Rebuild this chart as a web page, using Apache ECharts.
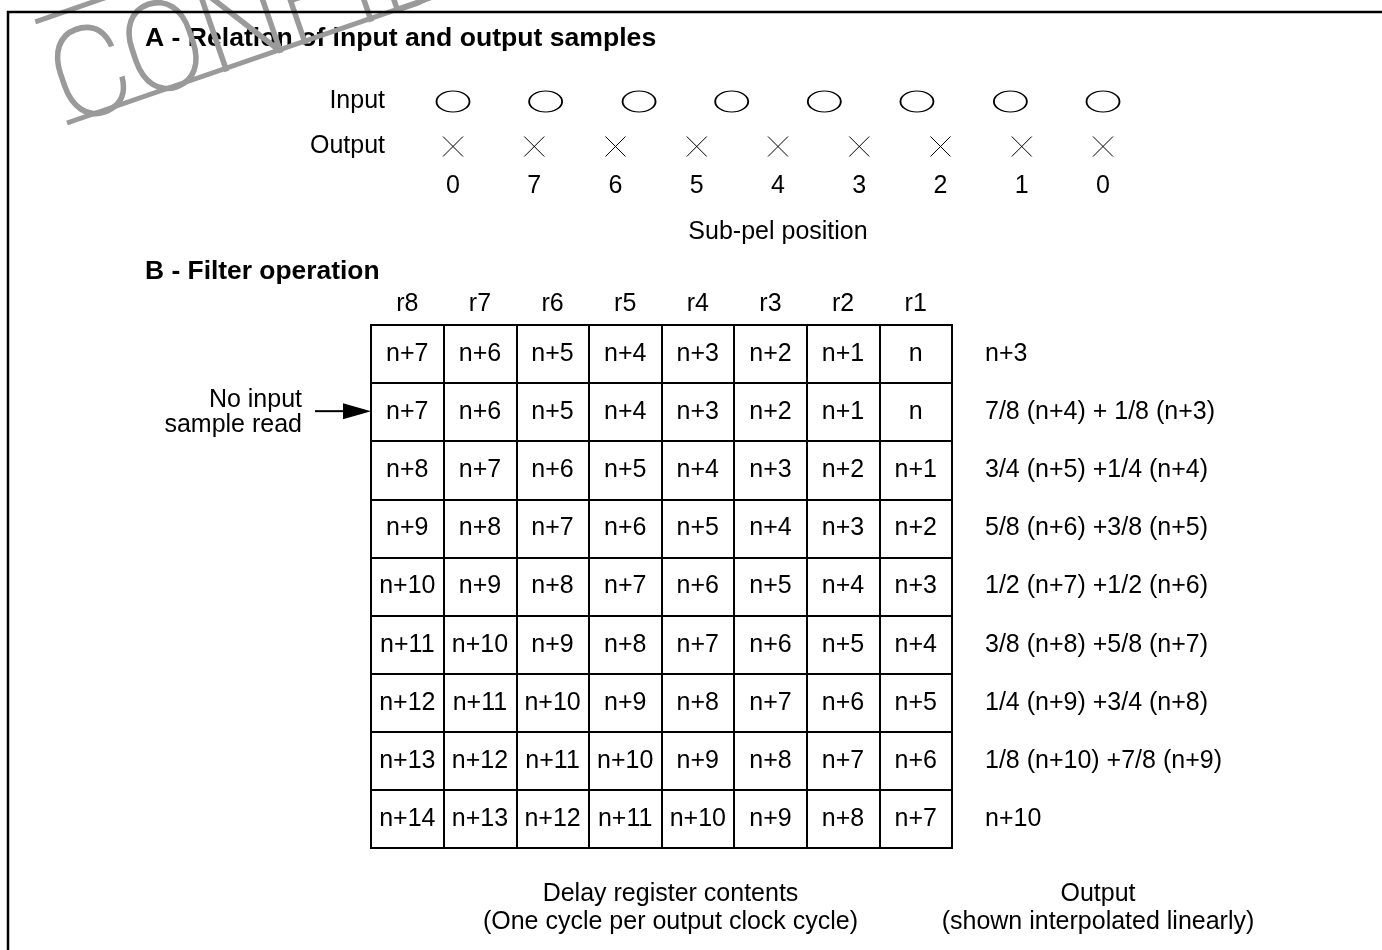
<!DOCTYPE html>
<html>
<head>
<meta charset="utf-8">
<script src="https://cdn.jsdelivr.net/npm/echarts@6/dist/echarts.min.js"></script>
<style>
  html, body { margin: 0; padding: 0; background: #fff; }
  #main { width: 1382px; height: 950px; }
</style>
</head>
<body>
<div id="main"></div>
<script>
// A - sample positions, in output sample units
const subpelLabels = ['0', '7', '6', '5', '4', '3', '2', '1', '0'];
const outputPos = [0, 1, 2, 3, 4, 5, 6, 7, 8];
const inputPos = [0, 1.14, 2.29, 3.43, 4.57, 5.71, 6.86, 8];
const sampleRows = ['Output', 'Input'];

// B - delay register contents per cycle
const registers = ['r8', 'r7', 'r6', 'r5', 'r4', 'r3', 'r2', 'r1'];
const cycles = ['c1', 'c2', 'c3', 'c4', 'c5', 'c6', 'c7', 'c8', 'c9'];
const cycleRows = [
  ['n+7', 'n+6', 'n+5', 'n+4', 'n+3', 'n+2', 'n+1', 'n'],
  ['n+7', 'n+6', 'n+5', 'n+4', 'n+3', 'n+2', 'n+1', 'n'],
  ['n+8', 'n+7', 'n+6', 'n+5', 'n+4', 'n+3', 'n+2', 'n+1'],
  ['n+9', 'n+8', 'n+7', 'n+6', 'n+5', 'n+4', 'n+3', 'n+2'],
  ['n+10', 'n+9', 'n+8', 'n+7', 'n+6', 'n+5', 'n+4', 'n+3'],
  ['n+11', 'n+10', 'n+9', 'n+8', 'n+7', 'n+6', 'n+5', 'n+4'],
  ['n+12', 'n+11', 'n+10', 'n+9', 'n+8', 'n+7', 'n+6', 'n+5'],
  ['n+13', 'n+12', 'n+11', 'n+10', 'n+9', 'n+8', 'n+7', 'n+6'],
  ['n+14', 'n+13', 'n+12', 'n+11', 'n+10', 'n+9', 'n+8', 'n+7']
];
const outputs = [
  'n+3',
  '7/8 (n+4) + 1/8 (n+3)',
  '3/4 (n+5) +1/4 (n+4)',
  '5/8 (n+6) +3/8 (n+5)',
  '1/2 (n+7) +1/2 (n+6)',
  '3/8 (n+8) +5/8 (n+7)',
  '1/4 (n+9) +3/4 (n+8)',
  '1/8 (n+10) +7/8 (n+9)',
  'n+10'
];

const FONT = "'Liberation Sans', Arial, Helvetica, sans-serif";
const FS = 25;

let cells = [];
cycleRows.forEach((row, i) => {
  row.forEach((txt, j) => {
    cells.push([registers[j], cycles[i], txt]);
  });
});

const chart = echarts.init(document.getElementById('main'));

const option = {
  animation: false,
  backgroundColor: '#fff',
  textStyle: { fontFamily: FONT, color: '#000' },
  grid: [
    { left: 453, right: 279, top: 79, height: 90 },
    { left: 371, right: 430, top: 325, bottom: 102, show: true, borderColor: '#000', borderWidth: 2 }
  ],
  xAxis: [
    {
      gridIndex: 0, type: 'value', min: 0, max: 8, interval: 1,
      axisLine: { show: false }, axisTick: { show: false }, splitLine: { show: false },
      axisLabel: { margin: 5, fontSize: FS, color: '#000', fontFamily: FONT, formatter: v => subpelLabels[v] },
      name: 'Sub-pel position', nameLocation: 'middle', nameGap: 51,
      nameTextStyle: { fontSize: FS, color: '#000', fontFamily: FONT }
    },
    {
      gridIndex: 1, type: 'category', position: 'top', data: registers,
      axisLine: { show: false }, axisTick: { show: false },
      splitLine: { show: true, lineStyle: { color: '#000', width: 2 } },
      axisLabel: { margin: 8, fontSize: FS, color: '#000', fontFamily: FONT }
    }
  ],
  yAxis: [
    {
      gridIndex: 0, type: 'category', data: sampleRows,
      axisLine: { show: false }, axisTick: { show: false }, splitLine: { show: false },
      axisLabel: { margin: 68, fontSize: FS, color: '#000', fontFamily: FONT }
    },
    {
      gridIndex: 1, type: 'category', data: cycles, inverse: true,
      axisLine: { show: false }, axisTick: { show: false }, axisLabel: { show: false },
      splitLine: { show: true, lineStyle: { color: '#000', width: 2 } }
    },
    {
      gridIndex: 1, type: 'category', data: outputs, inverse: true, position: 'right',
      axisLine: { show: false }, axisTick: { show: false }, splitLine: { show: false },
      axisLabel: { margin: 33, fontSize: FS, color: '#000', fontFamily: FONT, padding: [3, 0, 0, 0] }
    }
  ],
  series: [
    {
      name: 'Input', type: 'scatter', xAxisIndex: 0, yAxisIndex: 0,
      symbol: 'circle', symbolSize: [33, 21],
      itemStyle: { color: '#fff', borderColor: '#000', borderWidth: 1.5, opacity: 1 },
      data: inputPos.map(x => [x, 'Input'])
    },
    {
      name: 'Output', type: 'scatter', xAxisIndex: 0, yAxisIndex: 0,
      symbol: 'path://M0,0L20,20M20,0L0,20', symbolSize: 20,
      itemStyle: { color: 'none', borderColor: '#000', borderWidth: 1, opacity: 1 },
      data: outputPos.map(x => [x, 'Output'])
    },
    {
      name: 'Registers', type: 'scatter', xAxisIndex: 1, yAxisIndex: 1,
      symbolSize: 1, itemStyle: { color: 'rgba(0,0,0,0)', opacity: 1 },
      label: {
        show: true, position: 'inside', fontSize: FS, color: '#000', fontFamily: FONT,
        padding: [3, 0, 0, 0],
        formatter: p => p.value[2]
      },
      data: cells
    }
  ]
};

chart.setOption(option);

// annotations anchored to the register grid
const arrowY = chart.convertToPixel({ yAxisIndex: 1 }, cycles[1]);
const tableLeft = chart.convertToPixel({ xAxisIndex: 1 }, registers[0]) - 36.3;
const tableMid = (tableLeft + chart.convertToPixel({ xAxisIndex: 1 }, registers[7]) + 36.3) / 2;
const ang = 19 * Math.PI / 180;

chart.setOption({
  graphic: [
    {
      type: 'polyline', z: 50,
      shape: { points: [[1382, 12], [8, 12], [8, 950]] },
      style: { stroke: '#000', lineWidth: 2.5, fill: null }
    },
    {
      type: 'text', left: 145, top: 25,
      style: { text: 'A - Relation of input and output samples', font: 'bold 26.6px ' + FONT, fill: '#000' }
    },
    {
      type: 'text', left: 145, top: 259,
      style: { text: 'B - Filter operation', font: 'bold 26.4px ' + FONT, fill: '#000' }
    },
    {
      type: 'text', x: 302, y: arrowY - 12,
      style: { text: 'No input', font: FS + 'px ' + FONT, fill: '#000', textAlign: 'right', textVerticalAlign: 'middle' }
    },
    {
      type: 'text', x: 302, y: arrowY + 13,
      style: { text: 'sample read', font: FS + 'px ' + FONT, fill: '#000', textAlign: 'right', textVerticalAlign: 'middle' }
    },
    {
      type: 'line',
      shape: { x1: 315, y1: arrowY - 1, x2: 346, y2: arrowY - 1 },
      style: { stroke: '#000', lineWidth: 2 }
    },
    {
      type: 'polygon',
      shape: { points: [[343, arrowY - 9], [tableLeft, arrowY - 1], [343, arrowY + 7]] },
      style: { fill: '#000' }
    },
    {
      type: 'text', x: tableMid + 9, y: 894,
      style: { text: 'Delay register contents', font: FS + 'px ' + FONT, fill: '#000', textAlign: 'center', textVerticalAlign: 'middle' }
    },
    {
      type: 'text', x: tableMid + 9, y: 922,
      style: { text: '(One cycle per output clock cycle)', font: FS + 'px ' + FONT, fill: '#000', textAlign: 'center', textVerticalAlign: 'middle' }
    },
    {
      type: 'text', x: 1098, y: 894,
      style: { text: 'Output', font: FS + 'px ' + FONT, fill: '#000', textAlign: 'center', textVerticalAlign: 'middle' }
    },
    {
      type: 'text', x: 1098, y: 922,
      style: { text: '(shown interpolated linearly)', font: FS + 'px ' + FONT, fill: '#000', textAlign: 'center', textVerticalAlign: 'middle' }
    },
    {
      type: 'group', x: 67, y: 123, rotation: ang, z: 100,
      children: [
        { type: 'line', shape: { x1: 0, y1: 0, x2: 1500, y2: 0 }, style: { stroke: '#9a9a9a', lineWidth: 5 } },
        { type: 'line', shape: { x1: 3, y1: -106, x2: 1500, y2: -106 }, style: { stroke: '#9a9a9a', lineWidth: 5 } },
        {
          type: 'text', x: 0, y: 33, scaleX: 0.95,
          style: {
            text: 'CONFIDENTIAL', font: '100 124px Roboto, ' + FONT,
            fill: '#9a9a9a', stroke: '#9a9a9a', lineWidth: 2.5,
            textAlign: 'left', textVerticalAlign: 'bottom'
          }
        }
      ]
    }
  ]
});
</script>
</body>
</html>
